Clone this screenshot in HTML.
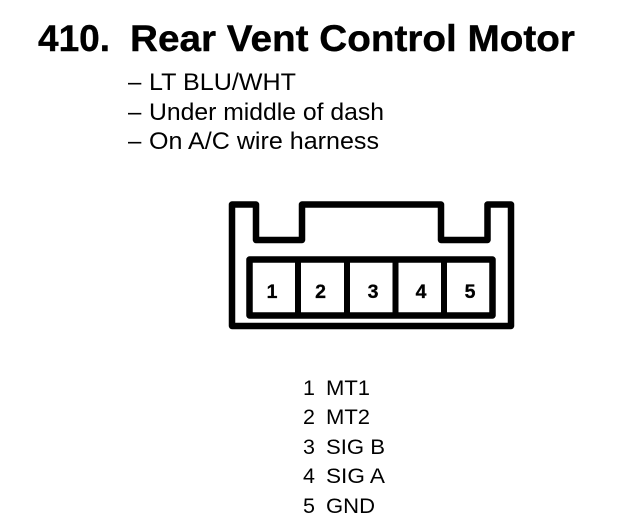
<!DOCTYPE html>
<html>
<head>
<meta charset="utf-8">
<style>
html,body{margin:0;padding:0;background:#fff;width:624px;height:524px;overflow:hidden}
svg{display:block}
text{font-family:"Liberation Sans",Arial,sans-serif;fill:#000}
.t{font-size:37px;font-weight:bold;stroke:#000;stroke-width:.4}
.b{font-size:24px}
.l{font-size:21.5px}
.n{font-size:19.5px;font-weight:bold;text-anchor:middle;stroke:#000;stroke-width:.3}
</style>
</head>
<body>
<svg width="624" height="524" viewBox="0 0 624 524" xmlns="http://www.w3.org/2000/svg">
<text class="t" x="38" y="51">410.</text>
<text class="t" x="130" y="51" textLength="445" lengthAdjust="spacingAndGlyphs">Rear Vent Control Motor</text>
<text class="b" x="128" y="90">–</text><text class="b" x="149" y="90" textLength="147" lengthAdjust="spacingAndGlyphs">LT BLU/WHT</text>
<text class="b" x="128" y="120">–</text><text class="b" x="149" y="120" textLength="235" lengthAdjust="spacingAndGlyphs">Under middle of dash</text>
<text class="b" x="128" y="149">–</text><text class="b" x="149" y="149" textLength="230" lengthAdjust="spacingAndGlyphs">On A/C wire harness</text>
<path d="M232 204.500H256V240H302V204.500H441V240H487.500V204.500H511V326H232Z" fill="none" stroke="#000" stroke-width="6.500" stroke-linejoin="round"/>
<rect x="249.500" y="259.500" width="243" height="56" fill="none" stroke="#000" stroke-width="6.500" stroke-linejoin="round"/>
<path d="M298 259.500V315.500M347 259.500V315.500M395.500 259.500V315.500M444 259.500V315.500" fill="none" stroke="#000" stroke-width="6"/>
<text class="n" x="272" y="298">1</text>
<text class="n" x="320.500" y="298">2</text>
<text class="n" x="373" y="298">3</text>
<text class="n" x="421" y="298">4</text>
<text class="n" x="470" y="298">5</text>
<text class="l" x="303" y="395">1</text><text class="l" x="326" y="395" textLength="44" lengthAdjust="spacingAndGlyphs">MT1</text>
<text class="l" x="303" y="424">2</text><text class="l" x="326" y="424" textLength="44" lengthAdjust="spacingAndGlyphs">MT2</text>
<text class="l" x="303" y="454">3</text><text class="l" x="326" y="454" textLength="59" lengthAdjust="spacingAndGlyphs">SIG B</text>
<text class="l" x="303" y="483">4</text><text class="l" x="326" y="483" textLength="59" lengthAdjust="spacingAndGlyphs">SIG A</text>
<text class="l" x="303" y="513">5</text><text class="l" x="326" y="513" textLength="49" lengthAdjust="spacingAndGlyphs">GND</text>
</svg>
</body>
</html>
